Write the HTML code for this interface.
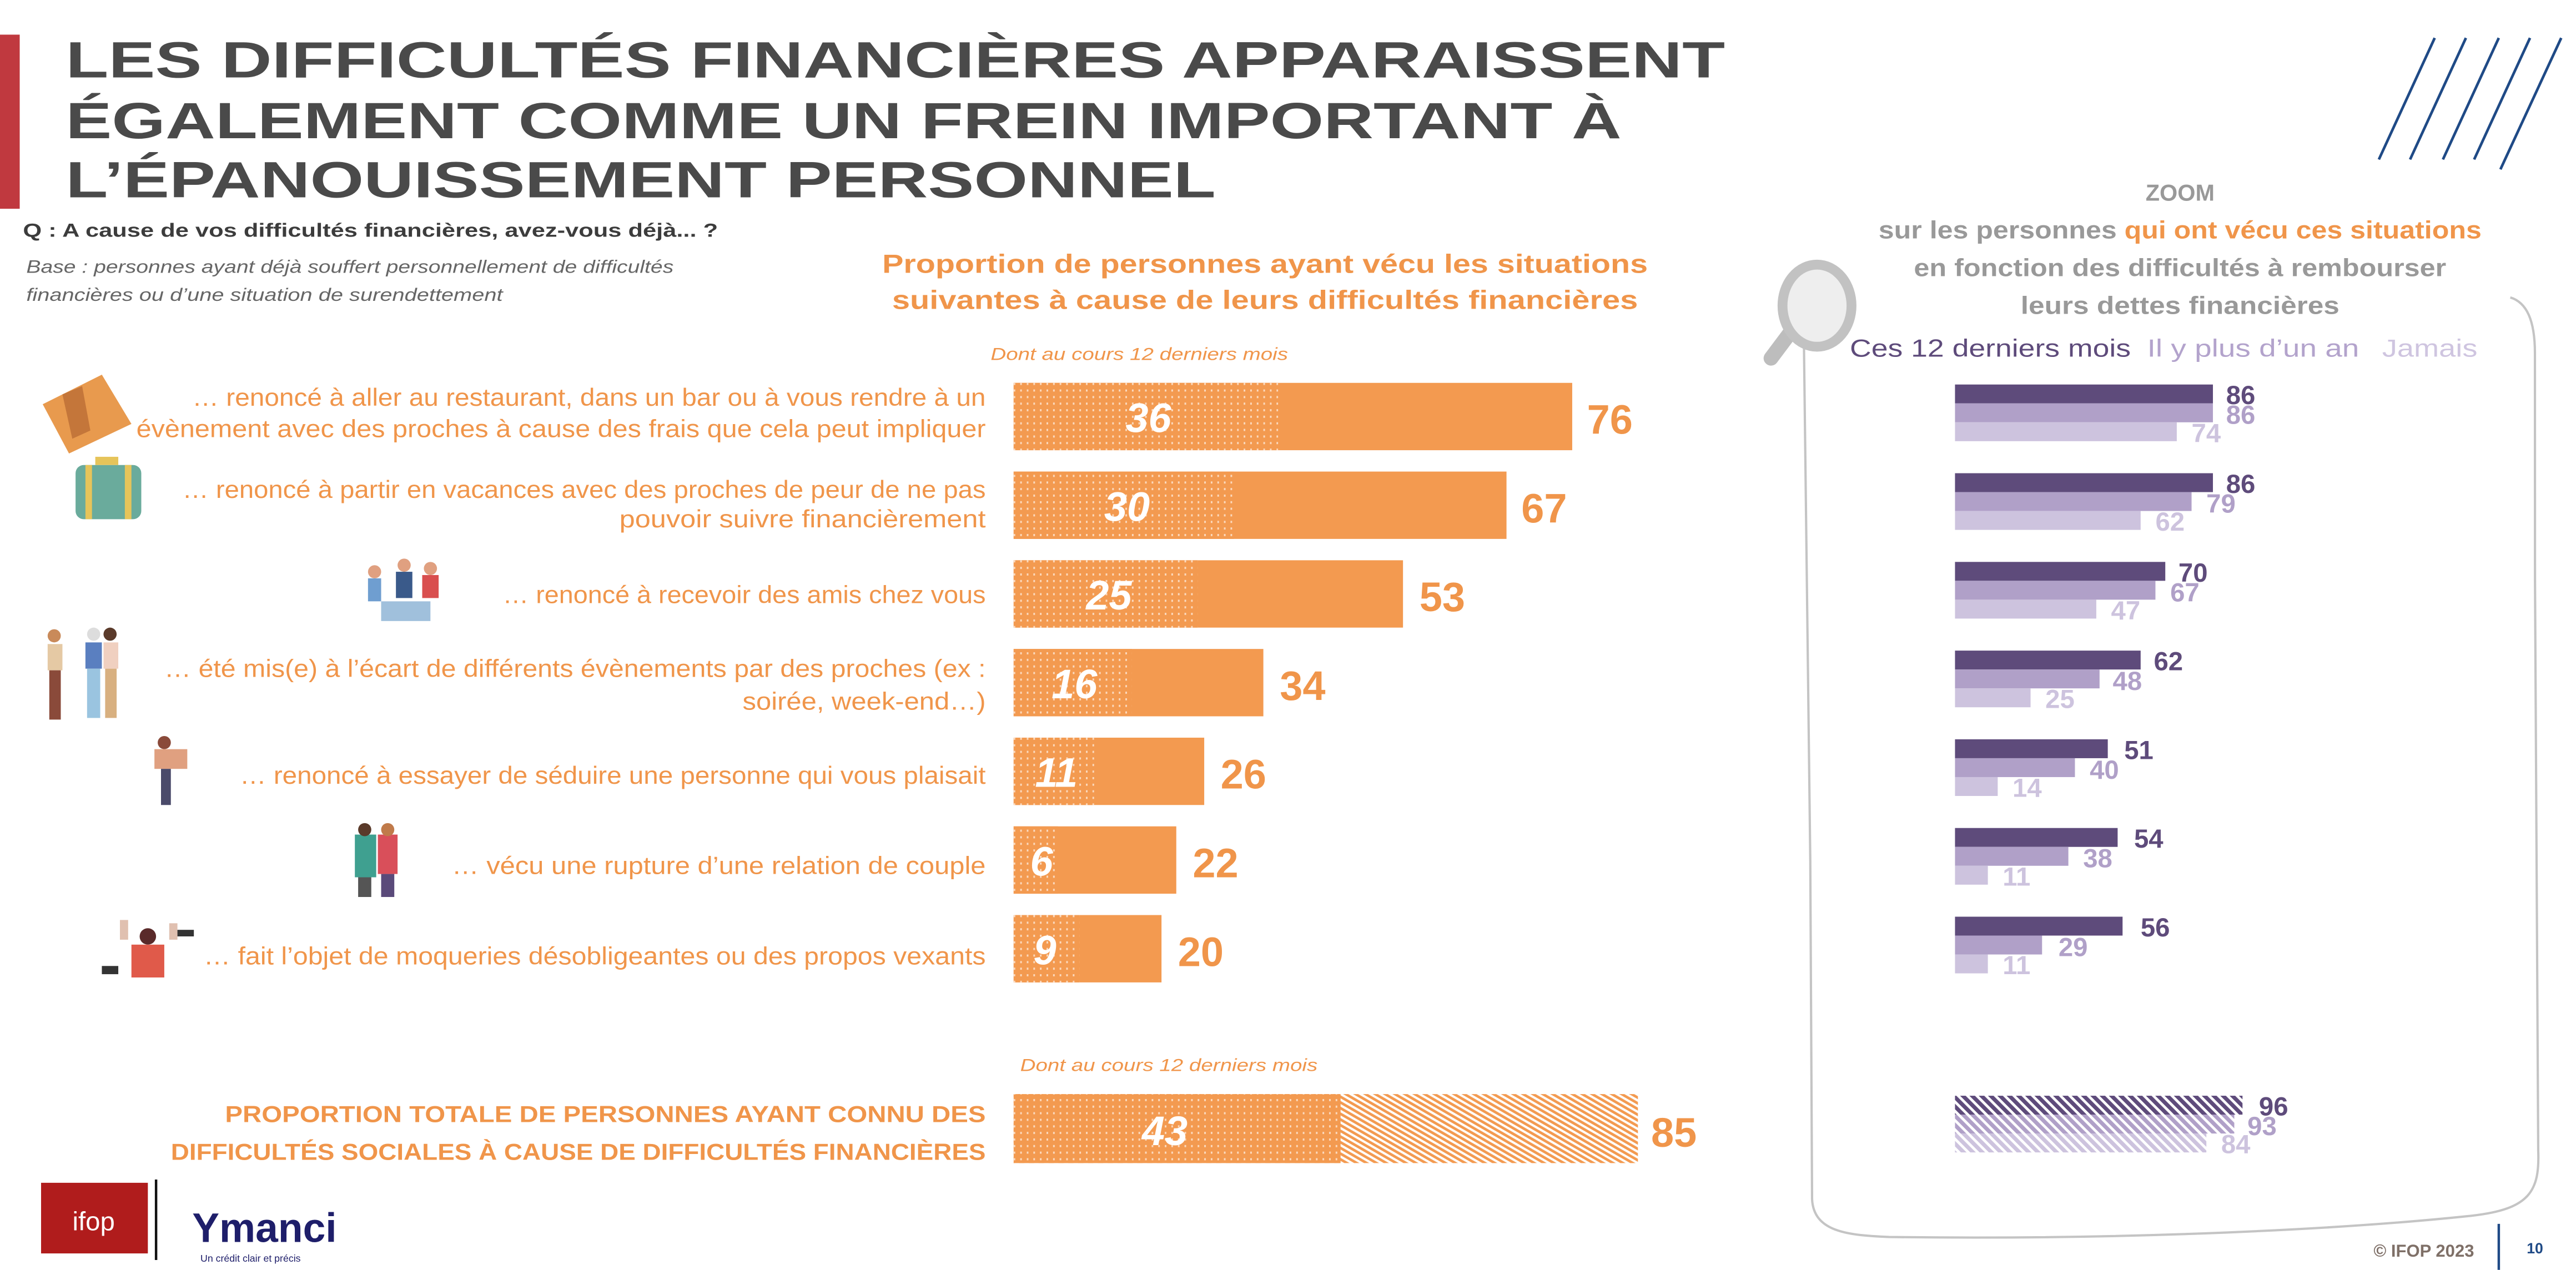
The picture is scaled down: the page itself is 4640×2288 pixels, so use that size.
<!DOCTYPE html>
<html><head><meta charset="utf-8">
<style>
html,body{margin:0;padding:0;background:#fff;}
body{width:4640px;height:2288px;overflow:hidden;}
svg{display:block;}
text{font-family:"Liberation Sans",sans-serif;}
.n{font-family:"Liberation Sans Narrow","Liberation Sans",sans-serif;font-weight:bold;}
.lab{fill:#f0954a;font-size:15px;}
</style></head>
<body>
<svg width="4640" height="2288" viewBox="0 0 1568 773" xmlns="http://www.w3.org/2000/svg">
<defs>
<pattern id="dots" width="4" height="4" patternUnits="userSpaceOnUse">
<rect width="4" height="4" fill="#f39a50"/>
<rect x="1" y="1" width="1" height="1.3" fill="#fbd9bd"/>
</pattern>
<pattern id="hatch" width="3" height="3" patternUnits="userSpaceOnUse" patternTransform="rotate(-60)">
<rect width="3" height="3" fill="#fff"/>
<rect width="1.6" height="3" fill="#f39a50"/>
</pattern>
<pattern id="hd" width="4" height="4" patternUnits="userSpaceOnUse" patternTransform="rotate(-45)">
<rect width="4" height="4" fill="#fff"/><rect width="2.4" height="4" fill="#5e4b7b"/></pattern>
<pattern id="hm" width="4" height="4" patternUnits="userSpaceOnUse" patternTransform="rotate(-45)">
<rect width="4" height="4" fill="#fff"/><rect width="2.4" height="4" fill="#b0a0c8"/></pattern>
<pattern id="hl" width="4" height="4" patternUnits="userSpaceOnUse" patternTransform="rotate(-45)">
<rect width="4" height="4" fill="#fff"/><rect width="2.4" height="4" fill="#cdc3de"/></pattern>
</defs>

<rect x="0" y="21" width="12" height="106" fill="#c0393f"/>
<g font-weight="bold" font-size="31" fill="#4a4a4a">
<text x="40" y="47" textLength="1010" lengthAdjust="spacingAndGlyphs">LES DIFFICULTÉS FINANCIÈRES APPARAISSENT</text>
<text x="40" y="84" textLength="947" lengthAdjust="spacingAndGlyphs">ÉGALEMENT COMME UN FREIN IMPORTANT À</text>
<text x="40" y="120" textLength="700" lengthAdjust="spacingAndGlyphs">L’ÉPANOUISSEMENT PERSONNEL</text>
</g>
<text x="14" y="144" font-size="11.5" font-weight="bold" fill="#3c3c3c" textLength="423" lengthAdjust="spacingAndGlyphs">Q : A cause de vos difficultés financières, avez-vous déjà... ?</text>
<g font-size="11" font-style="italic" fill="#666">
<text x="16" y="166" textLength="394" lengthAdjust="spacingAndGlyphs">Base : personnes ayant déjà souffert personnellement de difficultés</text>
<text x="16" y="183" textLength="290" lengthAdjust="spacingAndGlyphs">financières ou d’une situation de surendettement</text>
</g>
<g font-size="16" font-weight="bold" fill="#f0954a">
<text x="537" y="166" textLength="466" lengthAdjust="spacingAndGlyphs">Proportion de personnes ayant vécu les situations</text>
<text x="543" y="188" textLength="454" lengthAdjust="spacingAndGlyphs">suivantes à cause de leurs difficultés financières</text>
</g>
<text x="603" y="219" font-size="10.5" font-style="italic" fill="#f0954a" textLength="181" lengthAdjust="spacingAndGlyphs">Dont au cours 12 derniers mois</text>

<g>
<rect x="617" y="233" width="340" height="41" fill="#f39a50"/><rect x="617" y="233" width="161" height="41" fill="url(#dots)"/>
<rect x="617" y="287" width="300" height="41" fill="#f39a50"/><rect x="617" y="287" width="134" height="41" fill="url(#dots)"/>
<rect x="617" y="341" width="237" height="41" fill="#f39a50"/><rect x="617" y="341" width="112" height="41" fill="url(#dots)"/>
<rect x="617" y="395" width="152" height="41" fill="#f39a50"/><rect x="617" y="395" width="72" height="41" fill="url(#dots)"/>
<rect x="617" y="449" width="116" height="41" fill="#f39a50"/><rect x="617" y="449" width="49" height="41" fill="url(#dots)"/>
<rect x="617" y="503" width="99" height="41" fill="#f39a50"/><rect x="617" y="503" width="27" height="41" fill="url(#dots)"/>
<rect x="617" y="557" width="90" height="41" fill="#f39a50"/><rect x="617" y="557" width="40" height="41" fill="url(#dots)"/>
</g>
<g class="n" font-size="25" fill="#fff" font-style="italic" text-anchor="middle">
<text x="699" y="263">36</text><text x="686" y="317">30</text><text x="675" y="371">25</text>
<text x="654" y="425">16</text><text x="643" y="479">11</text><text x="634" y="533">6</text><text x="636" y="587">9</text>
</g>
<g class="n" font-size="25" fill="#f0954a">
<text x="966" y="264">76</text><text x="926" y="318">67</text><text x="864" y="372">53</text>
<text x="779" y="426">34</text><text x="743" y="480">26</text><text x="726" y="534">22</text><text x="717" y="588">20</text>
</g>

<g class="lab" text-anchor="end">
<text x="600" y="247" textLength="483" lengthAdjust="spacingAndGlyphs">… renoncé à aller au restaurant, dans un bar ou à vous rendre à un</text>
<text x="600" y="266" textLength="517" lengthAdjust="spacingAndGlyphs">évènement avec des proches à cause des frais que cela peut impliquer</text>
<text x="600" y="303" textLength="489" lengthAdjust="spacingAndGlyphs">… renoncé à partir en vacances avec des proches de peur de ne pas</text>
<text x="600" y="321" textLength="223" lengthAdjust="spacingAndGlyphs">pouvoir suivre financièrement</text>
<text x="600" y="367" textLength="294" lengthAdjust="spacingAndGlyphs">… renoncé à recevoir des amis chez vous</text>
<text x="600" y="412" textLength="500" lengthAdjust="spacingAndGlyphs">… été mis(e) à l’écart de différents évènements par des proches (ex :</text>
<text x="600" y="432" textLength="148" lengthAdjust="spacingAndGlyphs">soirée, week-end…)</text>
<text x="600" y="477" textLength="454" lengthAdjust="spacingAndGlyphs">… renoncé à essayer de séduire une personne qui vous plaisait</text>
<text x="600" y="532" textLength="325" lengthAdjust="spacingAndGlyphs">… vécu une rupture d’une relation de couple</text>
<text x="600" y="587" textLength="476" lengthAdjust="spacingAndGlyphs">… fait l’objet de moqueries désobligeantes ou des propos vexants</text>
</g>

<g>
<polygon points="26,246 62,228 80,258 42,276" fill="#e89a4e"/><polygon points="38,240 50,235 55,262 44,267" fill="#c4763a"/>
<rect x="46" y="283" width="40" height="33" rx="5" fill="#6aab9c"/><rect x="52" y="283" width="4" height="33" fill="#e6c45a"/><rect x="76" y="283" width="4" height="33" fill="#e6c45a"/><rect x="58" y="278" width="14" height="5" fill="#e6c45a"/>
<g fill="#3a5a8a"><circle cx="228" cy="348" r="4" fill="#e0a080"/><rect x="224" y="352" width="8" height="14" fill="#6f9ed0"/><circle cx="246" cy="344" r="4" fill="#e0a080"/><rect x="241" y="348" width="10" height="16" fill="#3a5a8a"/><circle cx="262" cy="346" r="4" fill="#e0a080"/><rect x="257" y="350" width="10" height="14" fill="#d94f4f"/><rect x="232" y="366" width="30" height="12" fill="#a0c0dc"/></g>
<g><circle cx="33" cy="387" r="4" fill="#c98a5a"/><rect x="29" y="392" width="9" height="16" fill="#e5c9a4"/><rect x="30" y="408" width="7" height="30" fill="#8a4a3a"/>
<circle cx="57" cy="386" r="4" fill="#ddd"/><rect x="52" y="391" width="10" height="16" fill="#5a7fc0"/><rect x="53" y="407" width="8" height="30" fill="#9ac4e0"/>
<circle cx="67" cy="386" r="4" fill="#5a3a2a"/><rect x="63" y="391" width="9" height="16" fill="#f0d0c0"/><rect x="64" y="407" width="7" height="30" fill="#d8b080"/></g>
<g><circle cx="100" cy="452" r="4" fill="#8a4a3a"/><rect x="94" y="456" width="20" height="12" fill="#e0a080"/><rect x="98" y="468" width="6" height="22" fill="#4a4a6a"/></g>
<g><rect x="216" y="508" width="13" height="26" fill="#3fa090"/><rect x="230" y="508" width="12" height="24" fill="#d94f5a"/><circle cx="222" cy="505" r="4" fill="#5a3a2a"/><circle cx="236" cy="505" r="4" fill="#c07a4a"/><rect x="218" y="534" width="8" height="12" fill="#555"/><rect x="232" y="532" width="8" height="14" fill="#5a4a7a"/></g>
<g><rect x="80" y="575" width="20" height="20" fill="#e05a4a"/><circle cx="90" cy="570" r="5" fill="#5a2a2a"/><rect x="73" y="560" width="5" height="12" fill="#e0c0b0"/><rect x="103" y="562" width="5" height="10" fill="#e0c0b0"/><rect x="62" y="588" width="10" height="5" fill="#333"/><rect x="108" y="566" width="10" height="4" fill="#333"/></g>
</g>

<text x="621" y="652" font-size="10.5" font-style="italic" fill="#f0954a" textLength="181" lengthAdjust="spacingAndGlyphs">Dont au cours 12 derniers mois</text>
<rect x="617" y="666" width="380" height="42" fill="url(#hatch)"/>
<rect x="617" y="666" width="199" height="42" fill="url(#dots)"/>
<text class="n" x="709" y="697" font-size="25" fill="#fff" font-style="italic" text-anchor="middle">43</text>
<text class="n" x="1005" y="698" font-size="25" fill="#f0954a">85</text>
<g font-size="14" font-weight="bold" fill="#f0954a" text-anchor="end">
<text x="600" y="683" textLength="463" lengthAdjust="spacingAndGlyphs">PROPORTION TOTALE DE PERSONNES AYANT CONNU DES</text>
<text x="600" y="706" textLength="496" lengthAdjust="spacingAndGlyphs">DIFFICULTÉS SOCIALES À CAUSE DE DIFFICULTÉS FINANCIÈRES</text>
</g>

<g stroke="#1f4a86" stroke-width="1.6">
<line x1="1448" y1="97" x2="1482" y2="23"/><line x1="1467" y1="97" x2="1501" y2="23"/>
<line x1="1487" y1="97" x2="1521" y2="23"/><line x1="1506" y1="97" x2="1540" y2="23"/>
<line x1="1522" y1="103" x2="1559" y2="23"/>
</g>

<path d="M1098,205 C1100,350 1103,560 1103,730 C1104,750 1125,752 1150,753 C1300,755 1430,748 1505,740 C1540,736 1546,725 1545,700 C1543,560 1543,380 1543,215 C1543,195 1538,184 1528,181" fill="none" stroke="#c4c4c4" stroke-width="1.4"/>
<g>
<line x1="1078" y1="218" x2="1090" y2="202" stroke="#bdbdbd" stroke-width="9" stroke-linecap="round"/>
<ellipse cx="1106" cy="186" rx="21" ry="25" fill="#eeeeee" stroke="#c2c2c2" stroke-width="6"/>
</g>
<g font-weight="bold" font-size="15" text-anchor="middle" fill="#999">
<text x="1327" y="122" font-size="14">ZOOM</text>
<text x="1327" y="145" textLength="367" lengthAdjust="spacingAndGlyphs">sur les personnes <tspan fill="#f0954a">qui ont vécu ces situations</tspan></text>
<text x="1327" y="168" textLength="324" lengthAdjust="spacingAndGlyphs">en fonction des difficultés à rembourser</text>
<text x="1327" y="191" textLength="194" lengthAdjust="spacingAndGlyphs">leurs dettes financières</text>
</g>
<g font-size="15">
<text x="1126" y="217" fill="#5e4b7b" textLength="171" lengthAdjust="spacingAndGlyphs">Ces 12 derniers mois</text>
<text x="1307" y="217" fill="#b3a3cc" textLength="129" lengthAdjust="spacingAndGlyphs">Il y plus d’un an</text>
<text x="1450" y="217" fill="#cfc5e0" textLength="58" lengthAdjust="spacingAndGlyphs">Jamais</text>
</g>
<g>
<rect x="1190" y="234" width="157" height="11.5" fill="#5e4b7b"/><rect x="1190" y="245.5" width="157" height="11.5" fill="#b0a0c8"/><rect x="1190" y="257" width="135" height="11.5" fill="#cdc3de"/>
<rect x="1190" y="288" width="157" height="11.5" fill="#5e4b7b"/><rect x="1190" y="299.5" width="144" height="11.5" fill="#b0a0c8"/><rect x="1190" y="311" width="113" height="11.5" fill="#cdc3de"/>
<rect x="1190" y="342" width="128" height="11.5" fill="#5e4b7b"/><rect x="1190" y="353.5" width="122" height="11.5" fill="#b0a0c8"/><rect x="1190" y="365" width="86" height="11.5" fill="#cdc3de"/>
<rect x="1190" y="396" width="113" height="11.5" fill="#5e4b7b"/><rect x="1190" y="407.5" width="88" height="11.5" fill="#b0a0c8"/><rect x="1190" y="419" width="46" height="11.5" fill="#cdc3de"/>
<rect x="1190" y="450" width="93" height="11.5" fill="#5e4b7b"/><rect x="1190" y="461.5" width="73" height="11.5" fill="#b0a0c8"/><rect x="1190" y="473" width="26" height="11.5" fill="#cdc3de"/>
<rect x="1190" y="504" width="99" height="11.5" fill="#5e4b7b"/><rect x="1190" y="515.5" width="69" height="11.5" fill="#b0a0c8"/><rect x="1190" y="527" width="20" height="11.5" fill="#cdc3de"/>
<rect x="1190" y="558" width="102" height="11.5" fill="#5e4b7b"/><rect x="1190" y="569.5" width="53" height="11.5" fill="#b0a0c8"/><rect x="1190" y="581" width="20" height="11.5" fill="#cdc3de"/>
<rect x="1190" y="667" width="175" height="11.5" fill="url(#hd)"/><rect x="1190" y="678.5" width="170" height="11.5" fill="url(#hm)"/><rect x="1190" y="690" width="153" height="11.5" fill="url(#hl)"/>
</g>
<g class="n" font-size="16">
<g fill="#5e4b7b"><text x="1355" y="246">86</text><text x="1355" y="300">86</text><text x="1326" y="354">70</text><text x="1311" y="408">62</text><text x="1293" y="462">51</text><text x="1299" y="516">54</text><text x="1303" y="570">56</text><text x="1375" y="679">96</text></g>
<g fill="#b0a0c8"><text x="1355" y="258">86</text><text x="1343" y="312">79</text><text x="1321" y="366">67</text><text x="1286" y="420">48</text><text x="1272" y="474">40</text><text x="1268" y="528">38</text><text x="1253" y="582">29</text><text x="1368" y="691">93</text></g>
<g fill="#cdc3de"><text x="1334" y="269">74</text><text x="1312" y="323">62</text><text x="1285" y="377">47</text><text x="1245" y="431">25</text><text x="1225" y="485">14</text><text x="1219" y="539">11</text><text x="1219" y="593">11</text><text x="1352" y="702">84</text></g>
</g>

<text x="1506" y="765" font-size="10.5" font-weight="bold" fill="#7f7068" text-anchor="end">© IFOP 2023</text>
<line x1="1521" y1="745" x2="1521" y2="773" stroke="#1f4a86" stroke-width="1.5"/>
<text x="1538" y="763" font-size="9" font-weight="bold" fill="#1f4a86">10</text>

<rect x="25" y="720" width="65" height="43" fill="#b01c1c"/>
<text x="57" y="749" font-size="16" fill="#fff" text-anchor="middle">ifop</text>
<line x1="95" y1="718" x2="95" y2="767" stroke="#111" stroke-width="1.5"/>
<text x="117" y="756" font-size="25" font-weight="bold" fill="#1e1e6a" textLength="88" lengthAdjust="spacingAndGlyphs">Ymanci</text>
<text x="122" y="768" font-size="6" fill="#1e1e6a">Un crédit clair et précis</text>
</svg>
</body></html>
